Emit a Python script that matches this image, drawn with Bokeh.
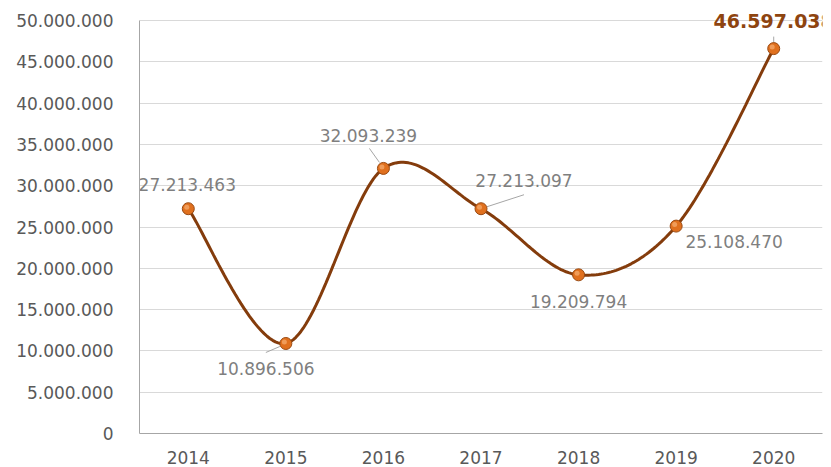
import numpy as np
from bokeh.plotting import figure
from bokeh.models import Range1d, FixedTicker, ColumnDataSource
from bokeh.core.properties import value
from bokeh.embed import file_html
from bokeh.resources import INLINE

years = ["2014", "2015", "2016", "2017", "2018", "2019", "2020"]
values = [27213463, 10896506, 32093239, 27213097, 19209794, 25108470, 46597038]
labels = ["27.213.463", "10.896.506", "32.093.239", "27.213.097", "19.209.794", "25.108.470", "46.597.038"]
y_ticks = [0, 5000000, 10000000, 15000000, 20000000, 25000000, 30000000, 35000000, 40000000, 45000000, 50000000]
y_tick_labels = ["0", "5.000.000", "10.000.000", "15.000.000", "20.000.000", "25.000.000",
                 "30.000.000", "35.000.000", "40.000.000", "45.000.000", "50.000.000"]

# label placement (pixel offsets from point: dx right, dy down)
label_dx = [-1, -20, -15, 43, 0, 58, 0]
label_dy = [-24, 25, -33, -28, 27, 15, -28]
# leader lines: (start dx, start dy, end dx, end dy) in pixels relative to the point
leaders = [None, (-20, 9, -6, 3), (-14, -20, -4, -6), (43, -14, 6, -2), None, None, (0, -12, 0, -6)]

AXIS_H = 413          # pixel height of the 0..50M axis
EXTRA_TOP = 17        # room above the axis so the top label is not clipped
FRAME_W, FRAME_H = 683, AXIS_H + EXTRA_TOP
X0, X1 = -0.5, 6.5
Y0, YMAX = 0, 50000000
px_x = FRAME_W / (X1 - X0)
px_y = AXIS_H / (YMAX - Y0)
Y1 = YMAX + EXTRA_TOP / px_y

p = figure(frame_width=FRAME_W, frame_height=FRAME_H, output_backend="svg", toolbar_location=None,
           x_range=Range1d(X0, X1), y_range=Range1d(Y0, Y1),
           min_border_left=139, min_border_top=3, min_border_right=9, min_border_bottom=34)
p.outline_line_color = None
p.background_fill_color = "white"
p.border_fill_color = "white"

xs = np.arange(len(years), dtype=float)
ys = np.array(values, dtype=float)

# Excel-like smoothed line (Catmull-Rom Bezier through the data points)
cx, cy = [], []
n = len(xs)
for i in range(n - 1):
    p0 = (xs[max(i - 1, 0)], ys[max(i - 1, 0)])
    p1 = (xs[i], ys[i])
    p2 = (xs[i + 1], ys[i + 1])
    p3 = (xs[min(i + 2, n - 1)], ys[min(i + 2, n - 1)])
    c1 = (p1[0] + (p2[0] - p0[0]) / 6, p1[1] + (p2[1] - p0[1]) / 6)
    c2 = (p2[0] - (p3[0] - p1[0]) / 6, p2[1] - (p3[1] - p1[1]) / 6)
    t = np.linspace(0, 1, 40)
    bx = (1 - t) ** 3 * p1[0] + 3 * (1 - t) ** 2 * t * c1[0] + 3 * (1 - t) * t ** 2 * c2[0] + t ** 3 * p2[0]
    by = (1 - t) ** 3 * p1[1] + 3 * (1 - t) ** 2 * t * c1[1] + 3 * (1 - t) * t ** 2 * c2[1] + t ** 3 * p2[1]
    cx.extend(bx.tolist())
    cy.extend(by.tolist())

p.line(cx, cy, line_color="#843C0C", line_width=3)

# leader lines
sx0, sy0, sx1, sy1 = [], [], [], []
for i, ld in enumerate(leaders):
    if ld is None:
        continue
    a, b, c, d = ld
    sx0.append(xs[i] + a / px_x)
    sy0.append(ys[i] - b / px_y)
    sx1.append(xs[i] + c / px_x)
    sy1.append(ys[i] - d / px_y)
p.segment(sx0, sy0, sx1, sy1, line_color="#A6A6A6", line_width=1)

p.scatter(xs, ys, size=12, fill_color="#E0701E", line_color="#9A4A12", line_width=1)
p.scatter(xs - 1.5 / px_x, ys + 1.5 / px_y, size=5, fill_color="#F4A868", line_color=None, fill_alpha=0.8)

src = ColumnDataSource(dict(x=xs[:-1], y=ys[:-1], t=labels[:-1], dx=label_dx[:-1], dy=label_dy[:-1]))
p.text(x="x", y="y", text="t", x_offset="dx", y_offset="dy", source=src,
       text_font=value("DejaVu Sans"), text_font_size="17px", text_color="#7F7F7F",
       text_align="center", text_baseline="middle")
src2 = ColumnDataSource(dict(x=xs[-1:], y=ys[-1:], t=labels[-1:], dx=label_dx[-1:], dy=label_dy[-1:]))
p.text(x="x", y="y", text="t", x_offset="dx", y_offset="dy", source=src2,
       text_font=value("DejaVu Sans"), text_font_size="19px", text_font_style="bold",
       text_color="#8E4410", text_align="center", text_baseline="middle")

# axes
p.yaxis.ticker = FixedTicker(ticks=y_ticks)
p.yaxis.bounds = (Y0, YMAX)
p.yaxis.major_label_overrides = {t: l for t, l in zip(y_ticks, y_tick_labels)}
p.yaxis.major_label_text_font = "DejaVu Sans"
p.yaxis.major_label_text_font_size = "17px"
p.yaxis.major_label_text_color = "#595959"
p.yaxis.major_tick_line_color = None
p.yaxis.minor_tick_line_color = None
p.yaxis.axis_line_color = "#A6A6A6"
p.yaxis.major_label_standoff = 20

p.xaxis.ticker = FixedTicker(ticks=list(range(len(years))))
p.xaxis.major_label_overrides = {i: y for i, y in enumerate(years)}
p.xaxis.major_label_text_font = "DejaVu Sans"
p.xaxis.major_label_text_font_size = "17px"
p.xaxis.major_label_text_color = "#595959"
p.xaxis.major_tick_line_color = None
p.xaxis.minor_tick_line_color = None
p.xaxis.axis_line_color = "#A6A6A6"
p.xaxis.major_label_standoff = 11

p.xgrid.grid_line_color = None
p.ygrid.grid_line_color = "#D9D9D9"
p.ygrid.grid_line_width = 1

open("out.html", "w").write(file_html(p, INLINE))
